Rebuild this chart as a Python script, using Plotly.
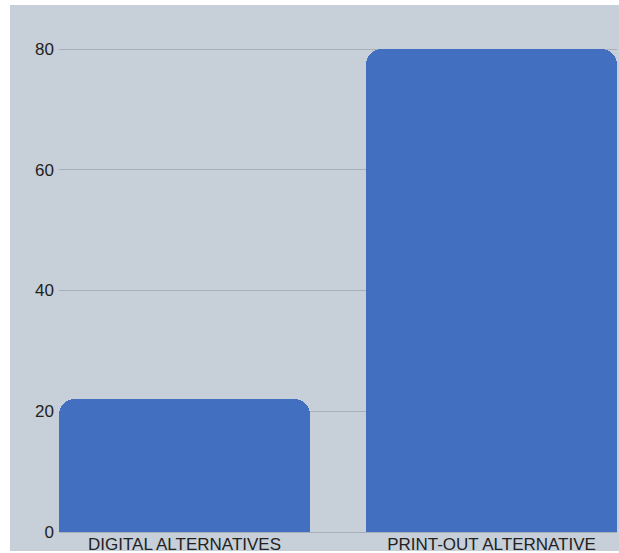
import plotly.graph_objects as go

categories = ["DIGITAL ALTERNATIVES", "PRINT-OUT ALTERNATIVE"]
values = [22, 80]
positions = [0, 1]

W, H = 619, 553
ml, mr, mt, mb = 59, 2, 46, 21
pw = W - ml - mr
ph = H - mt - mb

fig = go.Figure(go.Bar(
    x=positions, y=values, width=0.8176,
    marker=dict(color="#426fc0", cornerradius=16, line=dict(width=0)),
    hoverinfo="skip",
))

# gray panel behind the plot
fig.add_shape(type="rect", xref="paper", yref="paper", layer="below",
              x0=-(ml - 10) / pw, x1=1 + mr / pw,
              y0=-(551 - (H - mb)) / ph, y1=1 + (mt - 5) / ph,
              fillcolor="#c7cfd9", line=dict(width=0))

fig.update_layout(
    width=W, height=H,
    margin=dict(l=ml, r=mr, t=mt, b=mb),
    paper_bgcolor="white", plot_bgcolor="rgba(0,0,0,0)",
    showlegend=False,
    font=dict(family="Liberation Sans, Arial", size=16, color="#222222"),
    bargap=0,
)
fig.update_xaxes(range=[-0.4088, 1.4088], tickvals=positions, ticktext=categories,
                 showgrid=False, zeroline=False, showline=False, ticks="",
                 automargin=False, tickfont=dict(size=17))
fig.update_yaxes(range=[0, 80.5], tickvals=[0, 20, 40, 60, 80], showgrid=True,
                 gridcolor="#a9afb6", gridwidth=1, zeroline=True,
                 zerolinecolor="#a9afb6", zerolinewidth=1, showline=False,
                 ticks="", automargin=False, tickfont=dict(size=17),
                 ticklabelstandoff=4)

fig.write_html("out.html")
